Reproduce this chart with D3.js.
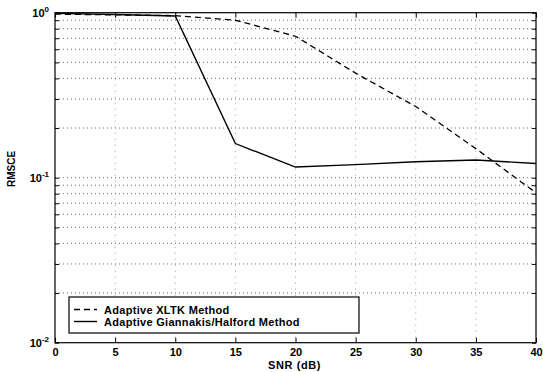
<!DOCTYPE html>
<html>
<head>
<meta charset="utf-8">
<script src="https://cdn.jsdelivr.net/npm/d3@7"></script>
<style>
html,body{margin:0;padding:0;background:#fff;}
svg{display:block;}
text{font-family:"Liberation Sans",Arial,Helvetica,sans-serif;fill:#000;}
</style>
</head>
<body>
<svg id="c" width="543" height="372"></svg>
<script>
// ---- data ----
const snr = [0, 5, 10, 15, 20, 25, 30, 35, 40];
const xltk = [0.98, 0.97, 0.96, 0.90, 0.72, 0.43, 0.27, 0.15, 0.081];
const giannakis = [0.99, 0.975, 0.955, 0.161, 0.116, 0.120, 0.125, 0.128, 0.122];
const xTicks = [0, 5, 10, 15, 20, 25, 30, 35, 40];
const yMajor = [1, 0.1, 0.01];
const yExp = ["0", "-1", "-2"];
const seriesNames = ["Adaptive XLTK Method", "Adaptive Giannakis/Halford Method"];
const xLabel = "SNR (dB)";
const yLabel = "RMSCE";

// ---- layout ----
const L = 55, R = 536, T = 12.7, B = 342.7;
const svg = d3.select("#c");
const x = d3.scaleLinear().domain([0, 40]).range([L, R]);
const y = d3.scaleLog().domain([0.01, 1]).range([B, T]);

const yMinor = [];
[0.01, 0.1].forEach(d => { for (let k = 2; k <= 9; k++) yMinor.push(d * k); });
const yAll = yMajor.concat(yMinor);

// grid
const grid = svg.append("g").attr("stroke", "#444").attr("stroke-width", 0.8)
  .attr("stroke-dasharray", "1,3").attr("fill", "none");
yAll.filter(v => v > 0.01 && v < 1).forEach(v => {
  grid.append("line").attr("x1", L).attr("x2", R).attr("y1", y(v)).attr("y2", y(v));
});
xTicks.filter(v => v > 0 && v < 40).forEach(v => {
  grid.append("line").attr("x1", x(v)).attr("x2", x(v)).attr("y1", T).attr("y2", B)
    .attr("stroke", "#888").attr("stroke-dasharray", "1,5");
});

// axes with inward ticks
const gB = svg.append("g").attr("transform", `translate(0,${B})`)
  .call(d3.axisBottom(x).tickValues(xTicks).tickSizeInner(-5).tickSizeOuter(0).tickPadding(6).tickFormat(d3.format("d")));
const gT = svg.append("g").attr("transform", `translate(0,${T})`)
  .call(d3.axisTop(x).tickValues(xTicks).tickSizeInner(-5).tickSizeOuter(0).tickFormat(""));
const gL = svg.append("g").attr("transform", `translate(${L},0)`)
  .call(d3.axisLeft(y).tickValues(yAll).tickSizeInner(-4).tickSizeOuter(0).tickFormat(""));
const gR = svg.append("g").attr("transform", `translate(${R},0)`)
  .call(d3.axisRight(y).tickValues(yAll).tickSizeInner(-4).tickSizeOuter(0).tickFormat(""));
[gB, gT, gL, gR].forEach(g => {
  g.select(".domain").remove();
  g.selectAll("line").attr("stroke", "#000");
  g.selectAll("text").attr("font-size", 11).attr("font-weight", "bold")
    .attr("font-family", '"Liberation Sans",Arial,sans-serif');
});

// y tick labels with superscripts
yMajor.forEach((v, i) => {
  const t = svg.append("text").attr("x", 49).attr("y", y(v) + 4).attr("text-anchor", "end")
    .attr("font-size", 11).attr("font-weight", "bold");
  t.append("tspan").text("10");
  t.append("tspan").attr("dy", -5).attr("font-size", 8).text(yExp[i]);
});

// frame
svg.append("rect").attr("x", L).attr("y", T).attr("width", R - L).attr("height", B - T)
  .attr("fill", "none").attr("stroke", "#000").attr("stroke-width", 1.2);

// lines
const line = d3.line().x((d, i) => x(snr[i])).y(d => y(d));
svg.append("path").datum(xltk).attr("d", line).attr("fill", "none")
  .attr("stroke", "#000").attr("stroke-width", 1.3).attr("stroke-dasharray", "6,4");
svg.append("path").datum(giannakis).attr("d", line).attr("fill", "none")
  .attr("stroke", "#000").attr("stroke-width", 1.4);

// axis labels
svg.append("text").attr("x", 294.5).attr("y", 368.5).attr("text-anchor", "middle")
  .attr("font-size", 11).attr("font-weight", "bold").attr("letter-spacing", "0.6").text(xLabel);
svg.append("text").attr("transform", `translate(14.5,${169}) rotate(-90)`)
  .attr("text-anchor", "middle").attr("font-size", 10).attr("font-weight", "bold").text(yLabel);

// legend
const lg = svg.append("g");
lg.append("rect").attr("x", 69).attr("y", 297).attr("width", 290).attr("height", 36)
  .attr("fill", "#fff").attr("stroke", "#000").attr("stroke-width", 1.2);
const dashes = ["6,4", null];
seriesNames.forEach((n, i) => {
  const yy = 309.5 + i * 12;
  lg.append("line").attr("x1", 74).attr("x2", 97).attr("y1", yy).attr("y2", yy)
    .attr("stroke", "#000").attr("stroke-width", 1.4).attr("stroke-dasharray", dashes[i]);
  lg.append("text").attr("x", 104).attr("y", yy + 4).attr("font-size", 11)
    .attr("font-weight", "bold").attr("letter-spacing", "0.3").text(n);
});
</script>
</body>
</html>
